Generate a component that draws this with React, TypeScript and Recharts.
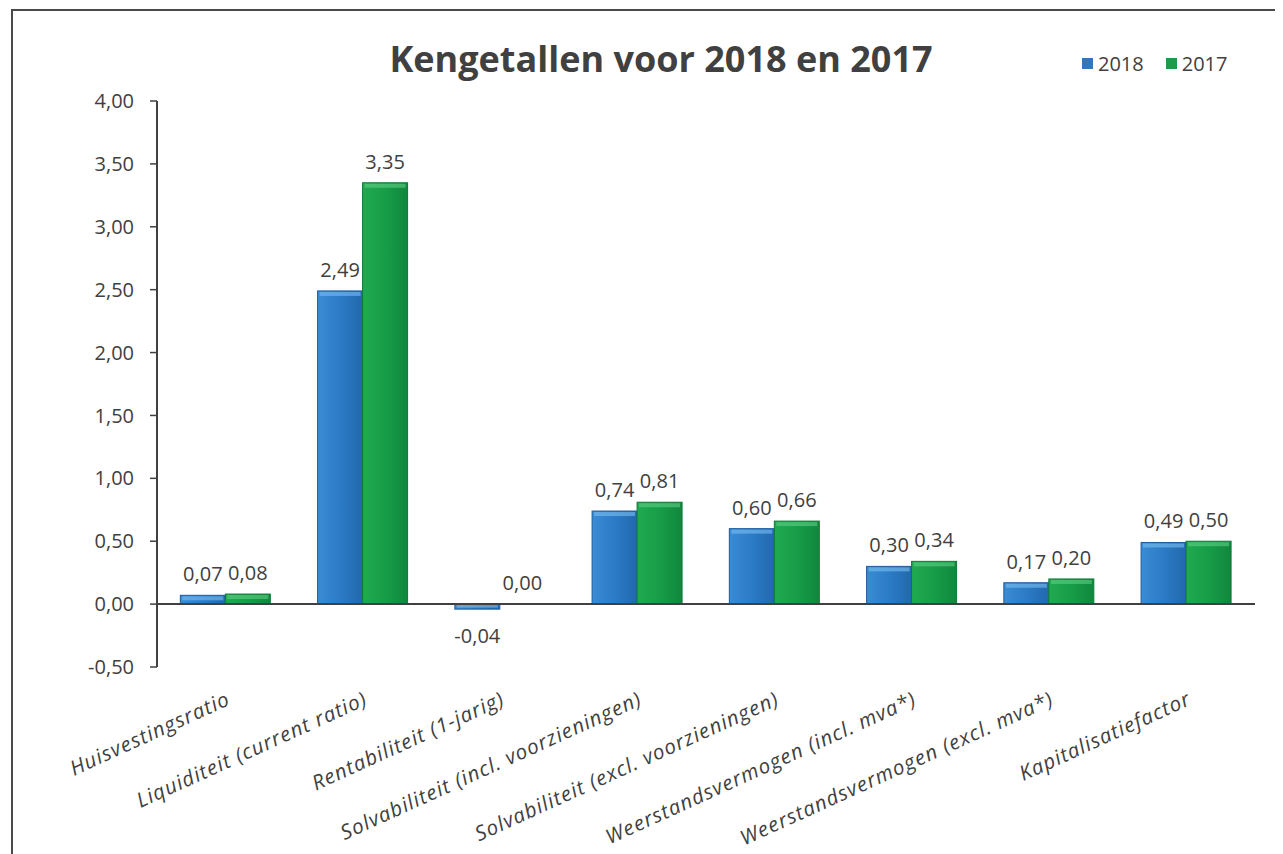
import React from 'react';
import { BarChart, Bar, XAxis, YAxis, ReferenceLine, LabelList } from 'recharts';

const categories = [
  'Huisvestingsratio',
  'Liquiditeit (current ratio)',
  'Rentabiliteit (1-jarig)',
  'Solvabiliteit (incl. voorzieningen)',
  'Solvabiliteit (excl. voorzieningen)',
  'Weerstandsvermogen (incl. mva*)',
  'Weerstandsvermogen (excl. mva*)',
  'Kapitalisatiefactor',
];
const values2018 = [0.07, 2.49, -0.04, 0.74, 0.6, 0.3, 0.17, 0.49];
const values2017 = [0.08, 3.35, 0.0, 0.81, 0.66, 0.34, 0.2, 0.5];
const yTicks = [-0.5, 0, 0.5, 1, 1.5, 2, 2.5, 3, 3.5, 4];
const seriesNames = ['2018', '2017'];

const data = categories.map((name, i) => ({ name, v2018: values2018[i], v2017: values2017[i] }));

const fmt = (v: number) => Number(v).toFixed(2).replace('.', ',');

const TEXT = '#404040';
const FONT = "'Open Sans', sans-serif";

const renderLabel = (props: any) => {
  const { x, y, width, height, value } = props;
  const top = Math.min(y, y + height);
  const bottom = Math.max(y, y + height);
  const cx = x + width / 2;
  const ty = value < 0 ? bottom + 34 : top - 14;
  return (
    <text x={cx} y={ty} textAnchor="middle" fontSize={20} fill={TEXT} fontFamily={FONT}>
      {fmt(value)}
    </text>
  );
};

const CategoryTick = (props: any) => {
  const { x, y, payload } = props;
  return (
    <g transform={`translate(${x + 6},${y + 35}) rotate(-24.5)`}>
      <text
        x={0}
        y={0}
        textAnchor="end"
        fontSize={20.5}
        letterSpacing={1.1}
        fontStyle="italic"
        fill={TEXT}
        fontFamily={FONT}
      >
        {payload.value}
      </text>
    </g>
  );
};

const BarShape = (props: any) => {
  const { x, y, width, height, gradId, edge, light } = props;
  const top = Math.min(y, y + height);
  const h = Math.abs(height);
  if (!h) return null;
  const bevel = Math.min(4, h / 2);
  return (
    <g>
      <rect x={x} y={top} width={width} height={h} fill={`url(#${gradId})`} stroke={edge} strokeWidth={1} />
      <rect x={x + 2} y={top + 1} width={Math.max(0, width - 4)} height={bevel} fill={light} opacity={0.6} />
    </g>
  );
};

const legendColors = ['#2f78c0', '#1d9a4a'];

export default function App() {
  return (
    <div style={{ position: 'relative', width: 1267, height: 846, background: '#fff' }}>
      <div style={{ position: 'absolute', left: 3, top: 1, width: 1264, height: 2, background: '#4a4a4a' }} />
      <div style={{ position: 'absolute', left: 3, top: 1, width: 2, height: 845, background: '#4a4a4a' }} />
      <div
        style={{
          position: 'absolute',
          left: 0,
          width: 1306,
          top: 27,
          textAlign: 'center',
          fontFamily: FONT,
          fontWeight: 700,
          fontSize: 36,
          color: TEXT,
          lineHeight: '48px',
          whiteSpace: 'nowrap',
        }}
      >
        Kengetallen voor 2018 en 2017
      </div>
      <div
        style={{
          position: 'absolute',
          left: 1074,
          top: 42,
          display: 'flex',
          alignItems: 'center',
          fontFamily: FONT,
          fontSize: 20,
          color: TEXT,
          zIndex: 2,
        }}
      >
        {seriesNames.map((n, i) => (
          <div key={n} style={{ display: 'flex', alignItems: 'center', marginRight: i === 0 ? 22 : 0 }}>
            <span style={{ display: 'inline-block', width: 11, height: 11, background: legendColors[i], marginRight: 5 }} />
            <span>{n}</span>
          </div>
        ))}
      </div>
      <BarChart
        width={1267}
        height={846}
        data={data}
        margin={{ top: 93, right: 20, bottom: 0, left: 0 }}
        barCategoryGap="17%"
        barGap={0}
        style={{ position: 'absolute', left: 0, top: 0 }}
      >
        <defs>
          <linearGradient id="g2018" x1="0" y1="0" x2="1" y2="0">
            <stop offset="0%" stopColor="#3a8cd4" />
            <stop offset="50%" stopColor="#2b7bc6" />
            <stop offset="100%" stopColor="#2268ad" />
          </linearGradient>
          <linearGradient id="g2017" x1="0" y1="0" x2="1" y2="0">
            <stop offset="0%" stopColor="#20aa50" />
            <stop offset="50%" stopColor="#179d47" />
            <stop offset="100%" stopColor="#11873d" />
          </linearGradient>
        </defs>
        <XAxis
          dataKey="name"
          interval={0}
          axisLine={false}
          tickLine={false}
          tickSize={0}
          height={187}
          tick={<CategoryTick />}
        />
        <YAxis
          width={149}
          domain={[-0.5, 4]}
          ticks={yTicks}
          interval={0}
          tickFormatter={fmt}
          axisLine={{ stroke: TEXT, strokeWidth: 2 }}
          tickLine={{ stroke: TEXT, strokeWidth: 1.5 }}
          tickSize={7}
          tickMargin={16}
          tick={{ fill: TEXT, fontSize: 20, fontFamily: FONT }}
        />
        <ReferenceLine y={0} stroke={TEXT} strokeWidth={2} />
        <Bar
          dataKey="v2018"
          name="2018"
          isAnimationActive={false}
          shape={(p: any) => <BarShape {...p} gradId="g2018" edge="#1d5c9c" light="#7cc0f0" />}
        >
          <LabelList dataKey="v2018" content={renderLabel} />
        </Bar>
        <Bar
          dataKey="v2017"
          name="2017"
          isAnimationActive={false}
          shape={(p: any) => <BarShape {...p} gradId="g2017" edge="#0e7a36" light="#5fcf85" />}
        >
          <LabelList dataKey="v2017" content={renderLabel} />
        </Bar>
      </BarChart>
    </div>
  );
}
